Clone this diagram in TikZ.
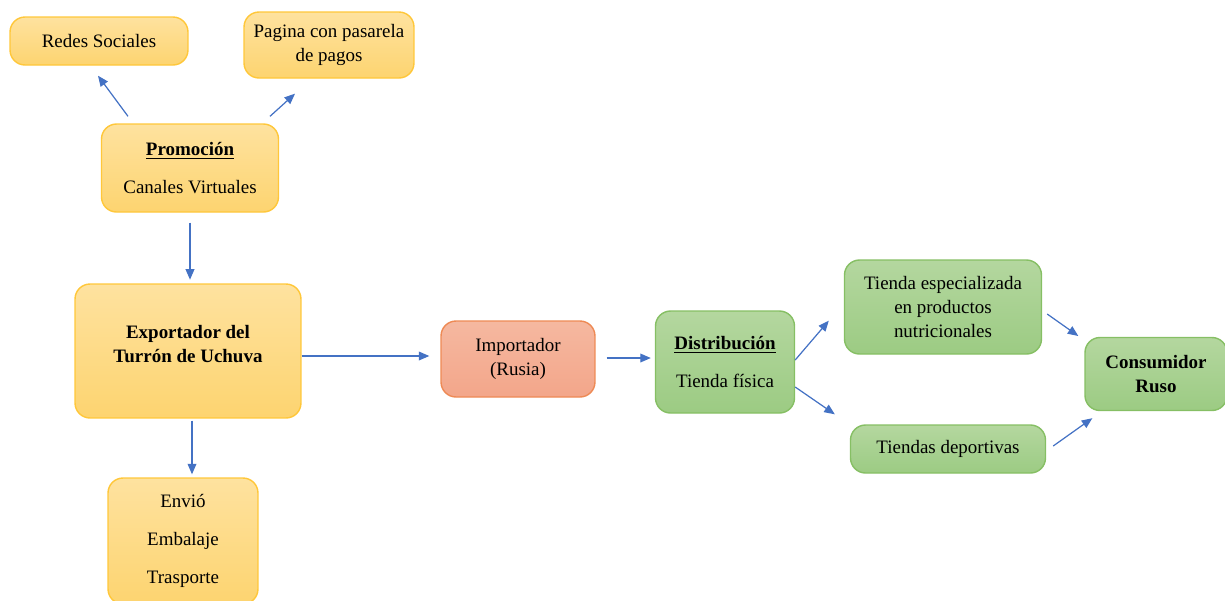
\documentclass[tikz,border=0pt]{standalone}
\usepackage{fontspec}
\setmainfont{Liberation Serif}
\usepackage{tikz}
\usetikzlibrary{calc,arrows.meta}

\definecolor{ylTop}{HTML}{FEE29F}
\definecolor{ylBot}{HTML}{FDD470}
\definecolor{ylLine}{HTML}{FFC73A}
\definecolor{orTop}{HTML}{F5B8A0}
\definecolor{orBot}{HTML}{F3A68A}
\definecolor{orLine}{HTML}{EE8A55}
\definecolor{grTop}{HTML}{B4D79F}
\definecolor{grBot}{HTML}{9CCB83}
\definecolor{grLine}{HTML}{86BF64}
\definecolor{arLine}{HTML}{4472C4}

\tikzset{
  box/.style={rounded corners=0.3cm, line width=0.8pt, inner sep=1pt, align=center,
    font=\fontsize{10.8}{13.9}\selectfont},
  ybox/.style={box, draw=ylLine, top color=ylTop, bottom color=ylBot},
  obox/.style={box, draw=orLine, top color=orTop, bottom color=orBot},
  gbox/.style={box, draw=grLine, top color=grTop, bottom color=grBot},
  arr/.style={draw=arLine, line width=0.7pt, -{Triangle[length=6pt,width=5pt]}}
}

\begin{document}
\begin{tikzpicture}[x=0.02cm, y=-0.02cm]
\useasboundingbox (0,0) rectangle (1225,600);

\node[ybox, minimum width=3.56cm, minimum height=0.96cm] (redes) at (99,41) {Redes Sociales};
\node[ybox, minimum width=3.4cm, minimum height=1.32cm] (pagina) at (329,45) {Pagina con pasarela\\de pagos};
\node[ybox, minimum width=3.54cm, minimum height=1.76cm] (promo) at (190,168) {\underline{\textbf{Promoción}}\\[7.5pt]Canales Virtuales};
\node[ybox, minimum width=4.52cm, minimum height=2.68cm] (export) at (188,351) {\textbf{Exportador del}\\\textbf{Turrón de Uchuva}\\[-5.5pt]\mbox{}};
\node[ybox, minimum width=3.0cm, minimum height=2.52cm] (envio) at (183,541) {Envió\\[7.5pt]Embalaje\\[7.5pt]Trasporte};
\node[obox, minimum width=3.08cm, minimum height=1.52cm] (imp) at (518,359) {Importador\\(Rusia)};
\node[gbox, minimum width=2.78cm, minimum height=2.04cm] (dist) at (725,362) {\underline{\textbf{Distribución}}\\[7.5pt]Tienda física};
\node[gbox, minimum width=3.94cm, minimum height=1.88cm] (espec) at (943,307) {Tienda especializada\\en productos\\nutricionales};
\node[gbox, minimum width=3.9cm, minimum height=0.96cm] (dep) at (948,449) {Tiendas deportivas};
\node[gbox, minimum width=2.84cm, minimum height=1.46cm] (cons) at (1156,374) {\textbf{Consumidor}\\\textbf{Ruso}};

\draw[arr] ($(promo.north)+(-62,-7)$) -- ($(redes.south)+(-1,10)$);
\draw[arr] ($(promo.north)+(80,-7)$) -- ($(pagina.south)+(-34,15)$);
\draw[arr] ($(promo.south)+(0,10)$) -- ($(promo.south)+(0,67)$);
\draw[arr] ($(export.south)+(4,2)$) -- ($(envio.north)+(9,-3)$);
\draw[arr] ($(export.east)+(0,5)$) -- ($(imp.west)+(-11,-3)$);
\draw[arr] ($(imp.east)+(11,-1)$) -- ($(dist.west)+(-4,-4)$);
\draw[arr] ($(dist.east)+(0,-2)$) -- ($(espec.south west)+(-15,-34)$);
\draw[arr] ($(dist.east)+(0,25)$) -- ($(dep.north west)+(-15,-10)$);
\draw[arr] ($(espec.east)+(5,7)$) -- ($(cons.west)+(-6,-38)$);
\draw[arr] ($(dep.east)+(7,-3)$) -- ($(cons.south west)+(8,7)$);
\end{tikzpicture}
\end{document}
